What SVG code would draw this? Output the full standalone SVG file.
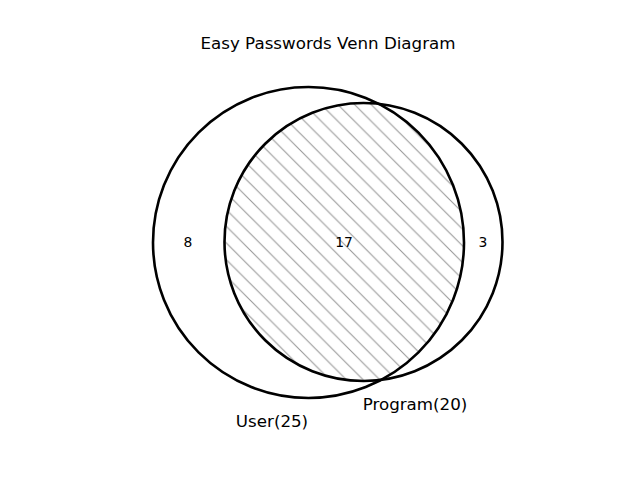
<svg xmlns="http://www.w3.org/2000/svg" width="640" height="480" viewBox="0 0 640 480">
<style>
  .ring { fill: none; stroke: #000; stroke-width: 2.6; }
  .num { font-family: "DejaVu Sans", sans-serif; font-size: 13.9px; text-anchor: middle; fill: #000; }
  .lbl { font-family: "DejaVu Sans", sans-serif; font-size: 16.7px; text-anchor: middle; fill: #000; }
</style>
<defs>
  <pattern id="hatch" patternUnits="userSpaceOnUse" x="0" y="0" width="16.667" height="16.667">
    <path d="M-2,-2 L18.667,18.667 M-2,14.667 L2,18.667 M14.667,-2 L18.667,2" stroke="#999" stroke-width="1.1" fill="none"/>
  </pattern>
</defs>
<rect width="640" height="480" fill="#fff"/>
<text class="lbl" x="328" y="49">Easy Passwords Venn Diagram</text>
<g id="intersection">
  <path d="M380.2,104.25 A139,139 0 1 0 380.2,380.25 A155.5,155.5 0 0 0 380.2,104.25 Z" fill="url(#hatch)" stroke="none"/>
</g>
<g id="connectors"></g>
<g id="user">
  <circle class="ring" cx="308.5" cy="242.5" r="155.5"/>
  <text class="lbl" x="272" y="427">User(25)</text>
</g>
<g id="program">
  <circle class="ring" cx="363.5" cy="242" r="139"/>
  <text class="lbl" x="415" y="410">Program(20)</text>
</g>
<g id="counts">
  <text class="num" x="188" y="247">8</text>
  <text class="num" x="344" y="247">17</text>
  <text class="num" x="483" y="247">3</text>
</g>
</svg>
